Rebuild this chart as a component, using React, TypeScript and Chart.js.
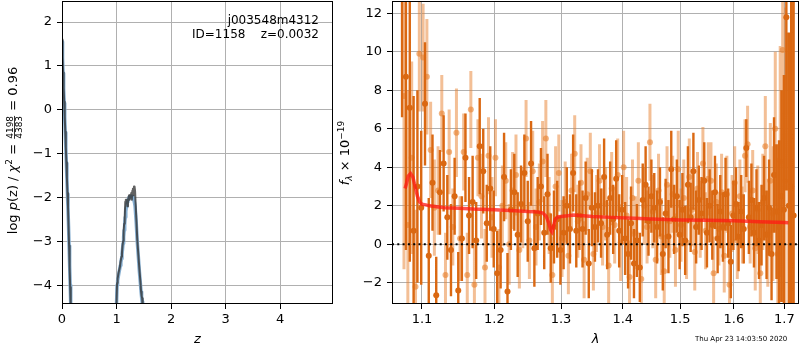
import React, { useEffect, useRef } from "react";
import { Chart, registerables } from "chart.js";

Chart.register(...registerables);

// ---------------- Left panel: log p(z) ----------------
const zGrid = [
  0, 0.01, 0.02, 0.03, 0.04, 0.05, 0.06, 0.07, 0.08, 0.09, 0.1, 0.11, 0.12, 0.13, 0.14, 0.15, 0.16, 0.18,
  0.5,
  0.99, 1.0, 1.01, 1.02, 1.04, 1.06,
  1.07, 1.08, 1.09, 1.1, 1.11, 1.12, 1.13, 1.14, 1.15, 1.16, 1.17, 1.18, 1.19, 1.2, 1.21, 1.22, 1.23, 1.24,
  1.25, 1.26, 1.27, 1.28, 1.29, 1.3, 1.31, 1.32, 1.33, 1.34,
  1.36, 1.38, 1.4, 1.42, 1.44,
  1.45, 1.46, 1.47, 1.48, 1.5,
];
const logpDark = [
  1.6, 1.2, 0.85, 0.5, 0.18, -0.15, -0.5, -0.85, -1.2, -1.55, -1.9, -2.2, -2.65, -3.1, -3.6, -4.05, -4.5, -5.5,
  null,
  -5, -4.4, -3.95, -3.85, -3.7, -3.6,
  -3.5, -3.5, -3.35, -3.25, -3.1, -3.0, -2.75, -2.6, -2.45, -2.1, -2.05, -2.1, -2.05, -2.2, -2.1, -2.0, -1.95, -2.05,
  -1.95, -2.0, -1.9, -2.05, -1.85, -1.8, -1.95, -1.75, -1.75, -1.85,
  -2.4, -2.95, -3.3, -3.65, -3.95,
  -4.15, -4.25, -4.3, -4.6, -5,
];
const logpBlue = [
  1.55, 1.18, 0.83, 0.48, 0.15, -0.18, -0.52, -0.87, -1.22, -1.57, -1.92, -2.27, -2.65, -3.1, -3.55, -4.0, -4.45, -5.4,
  null,
  -5, -4.45, -4.0, -3.9, -3.75, -3.62,
  -3.55, -3.48, -3.4, -3.3, -3.18, -3.05, -2.9, -2.75, -2.6, -2.45, -2.32, -2.22, -2.15, -2.1, -2.06, -2.03, -2.0, -2.0,
  -1.98, -1.98, -1.97, -1.97, -1.98, -2.0, -2.03, -2.07, -2.12, -2.2,
  -2.55, -3.0, -3.35, -3.7, -4.0,
  -4.15, -4.28, -4.38, -4.6, -5,
];
const zTicks = [0, 1, 2, 3, 4];
const logpTicks = [-4, -3, -2, -1, 0, 1, 2];

// ---------------- Right panel: spectrum ----------------
const waveDark = [
  1.074, 1.079, 1.084, 1.089, 1.094, 1.099, 1.104, 1.109, 1.114, 1.119,
  1.124, 1.129, 1.134, 1.139, 1.144, 1.149, 1.154, 1.159, 1.164, 1.169,
  1.174, 1.179, 1.184, 1.189, 1.194, 1.199, 1.204, 1.209, 1.214, 1.219,
  1.224, 1.229, 1.234, 1.239, 1.244, 1.249, 1.254, 1.259, 1.264, 1.269,
  1.274, 1.279, 1.284, 1.289, 1.294, 1.299, 1.304, 1.309, 1.314, 1.319,
  1.324, 1.329, 1.334, 1.339, 1.344, 1.349, 1.354, 1.359, 1.364, 1.369,
  1.374, 1.379, 1.384, 1.389, 1.394, 1.399, 1.404, 1.409, 1.414, 1.419,
  1.424, 1.429, 1.434, 1.439, 1.444, 1.449, 1.454, 1.459, 1.464, 1.469,
  1.474, 1.479, 1.484, 1.489, 1.494, 1.499, 1.504, 1.509, 1.514, 1.519,
  1.524, 1.529, 1.534, 1.539, 1.544, 1.549, 1.554, 1.559, 1.564, 1.569,
  1.574, 1.579, 1.584, 1.589, 1.594, 1.599, 1.604, 1.609, 1.614, 1.619,
  1.624, 1.629, 1.634, 1.639, 1.644, 1.649, 1.654, 1.659, 1.664, 1.669,
  1.674, 1.679, 1.684, 1.689, 1.694, 1.699, 1.704, 1.709, 1.714, 1.719,
];
const fluxDark = [
  13.5, 8.7, 7.1, 0.7, 3.0, 1.9, 7.3, -0.6, 3.2, -2.65,
  2.7, 4.2, 1.4, -0.3, 2.5, -2.4, 0.3, 4.5, 1.5, 2.2,
  0.2, 5.1, 3.8, 1.1, 2.9, 0.8, -1.5, -0.3, 3.5, -2.45,
  1.8, 2.7, 0.5, 2.1, 3.7, 1.2, 4.2, -0.2, 1.6, 3.0,
  0.6, 2.6, -0.2, 0.9, 1.3, -0.3, 0.6, 2.0, 0.8, 3.7,
  0.7, 1.5, 0.8, 2.4, -1.0, 1.9, 0.9, 2.0, 1.1, 3.5,
  0.5, 2.4, 1.3, 3.4, 0.7, 1.8, 0.3, -0.5, 1.1, -1.0,
  0.2, -1.2, 2.3, 3.1, 1.2, 2.5, 1.9, 0.9, 2.2, -0.5,
  1.6, 0.4, 3.9, 1.3, 2.5, 0.5, 1.8, 0.2, 3.1, 1.4,
  3.8, 0.9, 2.3, 1.6, 3.3, 0.6, 2.0, 1.0, 2.7, 0.3,
  1.7, 0.9, 2.6, 1.1, -0.9, 1.5, 2.1, 0.4, 1.7, 0.8,
  5.0, 1.4, 2.3, 0.6, 1.9, 0.2, 1.0, 2.4, 0.5, 1.9,
  -0.5, 3.6, 1.7, 0.9, 2.5, 1.8, 11.8, 2.0, 3.0, 1.5,
];
const errDark = [
  6.9, 9, 8, 7, 5, 4, 3.2, 3, 2.5, 2,
  2.2, 2.5, 2.2, 2.4, 2.0, 2.0, 2.2, 2.3, 2.0, 2.4,
  2.0, 2.5, 2.2, 2.0, 2.2, 2.0, 2.2, 2.0, 2.3, 2.0,
  2.1, 2.0, 2.2, 2.0, 2.0, 2.1, 2.2, 2.0, 1.9, 2.0,
  1.9, 2.1, 1.8, 1.9, 2.0, 1.8, 1.9, 2.0, 1.8, 2.0,
  1.9, 1.8, 2.0, 1.9, 1.8, 2.0, 1.8, 1.9, 1.8, 2.0,
  1.8, 1.9, 1.8, 2.0, 1.9, 1.8, 1.9, 1.8, 1.9, 1.8,
  1.9, 1.8, 1.9, 2.0, 1.8, 1.9, 1.8, 1.9, 1.8, 1.9,
  1.8, 1.9, 2.0, 1.8, 1.9, 1.8, 1.9, 1.8, 2.0, 1.8,
  2.0, 1.9, 1.8, 1.9, 2.0, 1.8, 1.9, 1.8, 1.9, 1.8,
  1.9, 1.8, 1.9, 1.8, 1.9, 1.8, 1.9, 1.8, 1.9, 1.8,
  1.5, 1.9, 1.9, 1.8, 2.0, 2.0, 2.1, 2.2, 2.3, 2.5,
  2.4, 3.0, 3.5, 4.5, 5.5, 7, 9, 9, 12, 12,
];
const waveLight = [
  1.0765, 1.0815, 1.0865, 1.0915, 1.0965, 1.1015, 1.1065, 1.1115, 1.1165, 1.1215,
  1.1265, 1.1315, 1.1365, 1.1415, 1.1465, 1.1515, 1.1565, 1.1615, 1.1665, 1.1715,
  1.1765, 1.1815, 1.1865, 1.1915, 1.1965, 1.2015, 1.2065, 1.2115, 1.2165, 1.2215,
  1.2265, 1.2315, 1.2365, 1.2415, 1.2465, 1.2515, 1.2565, 1.2615, 1.2665, 1.2715,
  1.2765, 1.2815, 1.2865, 1.2915, 1.2965, 1.3015, 1.3065, 1.3115, 1.3165, 1.3215,
  1.3265, 1.3315, 1.3365, 1.3415, 1.3465, 1.3515, 1.3565, 1.3615, 1.3665, 1.3715,
  1.3765, 1.3815, 1.3865, 1.3915, 1.3965, 1.4015, 1.4065, 1.4115, 1.4165, 1.4215,
  1.4265, 1.4315, 1.4365, 1.4415, 1.4465, 1.4515, 1.4565, 1.4615, 1.4665, 1.4715,
  1.4765, 1.4815, 1.4865, 1.4915, 1.4965, 1.5015, 1.5065, 1.5115, 1.5165, 1.5215,
  1.5265, 1.5315, 1.5365, 1.5415, 1.5465, 1.5515, 1.5565, 1.5615, 1.5665, 1.5715,
  1.5765, 1.5815, 1.5865, 1.5915, 1.5965, 1.6015, 1.6065, 1.6115, 1.6165, 1.6215,
  1.6265, 1.6315, 1.6365, 1.6415, 1.6465, 1.6515, 1.6565, 1.6615, 1.6665, 1.6715,
  1.6765, 1.6815, 1.6865, 1.6915, 1.6965, 1.7015,
];
const fluxLight = [
  7.7, 1.0, 4.5, -2.2, 9.9, 9.7, 8.7, 4.9, 1.9, 2.8,
  6.8, -1.6, 4.8, 0.9, 5.8, 0.3, 4.8, -1.6, 7.0, -2.1,
  4.5, 2.5, -1.2, 4.6, 1.4, 4.5, -1.2, 2.0, 3.3, 0.0,
  2.8, 3.6, -0.3, 1.9, 5.5, 0.2, 3.8, 0.9, 2.2, 4.3,
  5.5, 1.5, -1.6, 3.0, 3.7, 0.3, 2.2, -0.6, 2.8, 4.7,
  1.2, 3.2, -0.8, 2.6, 3.8, -0.5, 1.6, 3.3, 0.9, 2.1,
  -1.1, 2.9, 1.0, 3.6, 0.1, 4.0, 1.5, -1.7, 2.4, 0.6,
  3.3, -1.8, 2.0, 0.9, 5.3, 1.7, -0.8, 2.8, 0.4, -1.4,
  3.1, 1.2, 2.6, -0.3, 3.9, 1.0, 2.4, 0.1, 3.5, 1.8,
  -0.4, 2.9, 1.3, 4.2, 0.7, 3.4, 3.3, -1.5, 2.2, 0.8,
  2.7, -0.6, 2.6, -2.1, 1.6, 3.2, 0.2, 2.5, 1.0, 4.6,
  5.2, 0.9, 2.8, -0.2, 1.8, -1.5, 2.2, 5.1, 0.6, 3.3,
  1.6, 6.0, -0.5, 4.3, 10.1, 3.3,
];
const errLight = [
  9, 7, 5, 4, 3, 2.8, 3, 2.5, 2.5, 2.3,
  2.0, 2.2, 2.2, 2.0, 2.3, 2.2, 2.0, 2.2, 2.0, 2.1,
  2.0, 2.2, 2.0, 2.0, 2.1, 2.0, 2.0, 2.1, 2.0, 2.1,
  2.0, 2.1, 2.0, 2.1, 2.0, 2.0, 2.1, 2.0, 2.0, 2.1,
  2.0, 2.0, 2.0, 2.1, 2.0, 2.0, 2.1, 2.0, 1.9, 2.0,
  1.9, 2.0, 2.0, 1.9, 2.0, 1.9, 2.0, 1.9, 2.0, 1.9,
  2.0, 1.9, 2.0, 1.9, 2.0, 1.9, 2.0, 1.9, 2.0, 1.9,
  2.0, 1.9, 2.0, 1.9, 2.0, 1.9, 2.0, 1.9, 2.0, 1.9,
  2.0, 1.9, 2.0, 1.9, 2.0, 1.9, 2.0, 1.9, 2.0, 1.9,
  2.0, 1.9, 2.0, 1.9, 2.0, 1.9, 2.0, 1.9, 2.0, 1.9,
  2.0, 1.9, 2.0, 1.9, 2.0, 1.9, 2.0, 1.9, 2.0, 1.9,
  2.0, 1.9, 2.1, 2.2, 2.3, 2.4, 2.5, 2.6, 2.8, 3.0,
  3.5, 4, 5, 6, 8, 9,
];
const modelWave = [
  1.078, 1.08, 1.082, 1.085, 1.088, 1.091, 1.094, 1.097, 1.1, 1.105,
  1.11, 1.12, 1.13, 1.15, 1.17, 1.2, 1.23, 1.25, 1.265, 1.272,
  1.277, 1.281, 1.284, 1.286, 1.288, 1.291, 1.295, 1.3, 1.31, 1.32,
  1.33, 1.35, 1.38, 1.42, 1.46, 1.5, 1.55, 1.6, 1.65, 1.7, 1.708,
];
const modelFlux = [
  2.9, 3.2, 3.55, 3.68, 3.5, 3.0, 2.5, 2.2, 2.08, 2.05,
  2.0, 1.95, 1.9, 1.87, 1.83, 1.8, 1.75, 1.7, 1.68, 1.62,
  1.45, 1.1, 0.75, 0.65, 0.9, 1.3, 1.42, 1.45, 1.48, 1.52,
  1.5, 1.45, 1.4, 1.35, 1.3, 1.27, 1.25, 1.22, 1.17, 1.13, 1.12,
];
const waveTicks = [1.1, 1.2, 1.3, 1.4, 1.5, 1.6, 1.7];
const fluxTicks = [-2, 0, 2, 4, 6, 8, 10, 12];

const FONT = '"DejaVu Sans"';
const DARK = "rgb(218,104,18)";
const LIGHT_BAR = "rgba(232,128,45,0.5)";
const LIGHT_PT = "rgba(232,128,45,0.6)";

function pts(xs: number[], ys: (number | null)[]) {
  return xs.map((x, i) => ({ x, y: ys[i] }));
}
function errPts(xs: number[], f: number[], e: number[]) {
  const out: { x: number; y: number | null }[] = [];
  xs.forEach((x, i) => {
    out.push({ x, y: f[i] - e[i] }, { x, y: f[i] + e[i] }, { x, y: null });
  });
  return out;
}
const fmtNum = (v: number) => (v < 0 ? "\u2212" + Math.abs(v) : String(v));

type Piece = { t?: string; f: string; dy?: number; frac?: [string, string] };
function drawRotatedRich(ctx: CanvasRenderingContext2D, pieces: Piece[], baseX: number, cy: number) {
  ctx.save();
  ctx.translate(baseX, cy);
  ctx.rotate(-Math.PI / 2);
  ctx.fillStyle = "#000";
  ctx.textBaseline = "alphabetic";
  const widths = pieces.map((p) => {
    ctx.font = p.f;
    if (p.frac) return Math.max(ctx.measureText(p.frac[0]).width, ctx.measureText(p.frac[1]).width) + 2;
    return ctx.measureText(p.t || "").width;
  });
  const total = widths.reduce((a, b) => a + b, 0);
  let x = -total / 2;
  pieces.forEach((p, i) => {
    ctx.font = p.f;
    const w = widths[i];
    if (p.frac) {
      ctx.textAlign = "center";
      ctx.fillText(p.frac[0], x + w / 2, -3.8);
      ctx.fillText(p.frac[1], x + w / 2, 4.6);
      ctx.fillRect(x + 1, -3.0, w - 2, 0.8);
    } else {
      ctx.textAlign = "left";
      ctx.fillText(p.t || "", x, p.dy || 0);
    }
    x += w;
  });
  ctx.restore();
}

function framePlugin(id: string, drawText: (ctx: CanvasRenderingContext2D, a: any) => void) {
  return {
    id,
    afterDraw(chart: any) {
      const ctx = chart.ctx as CanvasRenderingContext2D;
      const a = chart.chartArea;
      ctx.save();
      ctx.strokeStyle = "#000";
      ctx.lineWidth = 1;
      ctx.strokeRect(Math.round(a.left) + 0.5, Math.round(a.top) + 0.5, Math.round(a.right - a.left) - 1, Math.round(a.bottom - a.top) - 1);
      drawText(ctx, a);
      ctx.restore();
    },
  };
}

const grid = { color: "#b0b0b0", lineWidth: 1, tickColor: "#000", tickLength: 5, tickWidth: 1, drawTicks: true };
const tickFont = { family: FONT, size: 13 };

function leftConfig(): any {
  return {
    type: "line",
    data: {
      datasets: [
        { data: pts(zGrid, logpDark), borderColor: "rgba(45,45,45,0.75)", borderWidth: 2, pointRadius: 0, spanGaps: false, order: 0 },
        { data: pts(zGrid, logpBlue), borderColor: "#86aed0", borderWidth: 3.5, pointRadius: 0, spanGaps: false, order: 1 },
      ],
    },
    options: {
      animation: false,
      responsive: false,
      devicePixelRatio: 1,
      events: [],
      layout: { padding: { left: 0, right: 7, top: 1, bottom: 0 }, autoPadding: false },
      elements: { line: { tension: 0, borderJoinStyle: "round" }, point: { radius: 0 } },
      plugins: { legend: { display: false }, tooltip: { enabled: false } },
      scales: {
        x: {
          type: "linear",
          min: 0,
          max: 4.97,
          grid,
          border: { display: false },
          ticks: { font: tickFont, color: "#000", padding: 3, maxRotation: 0, autoSkip: false, callback: (v: number) => fmtNum(v) },
          afterBuildTicks: (s: any) => { s.ticks = zTicks.map((v) => ({ value: v })); },
          afterFit: (s: any) => { s.height = 46; s.paddingLeft = 0; s.paddingRight = 0; },
        },
        y: {
          type: "linear",
          min: -4.43,
          max: 2.48,
          grid,
          border: { display: false },
          ticks: { font: tickFont, color: "#000", padding: 5, autoSkip: false, callback: (v: number) => fmtNum(v) },
          afterBuildTicks: (s: any) => { s.ticks = logpTicks.map((v) => ({ value: v })); },
          afterFit: (s: any) => { s.width = 62; s.paddingTop = 0; s.paddingBottom = 0; },
        },
      },
    },
    plugins: [
      framePlugin("leftFrame", (ctx, a) => {
        ctx.fillStyle = "#000";
        ctx.font = `12px ${FONT}`;
        ctx.textAlign = "right";
        ctx.textBaseline = "middle";
        ctx.fillText("j003548m4312", a.right - 14, 20.5);
        ctx.fillText("ID=1158    z=0.0032", a.right - 14, 34.5);
        ctx.font = `italic 13px ${FONT}`;
        ctx.textAlign = "center";
        ctx.fillText("z", (a.left + a.right) / 2, 340);
        drawRotatedRich(
          ctx,
          [
            { t: "log ", f: `13px ${FONT}` },
            { t: "p", f: `italic 13px ${FONT}` },
            { t: "(z) / ", f: `13px ${FONT}` },
            { t: "\u03c7", f: `italic 13px ${FONT}` },
            { t: "2", f: `9px ${FONT}`, dy: -5.5 },
            { t: " = ", f: `13px ${FONT}` },
            { f: `9px ${FONT}`, frac: ["4198", "4383"] },
            { t: " = 0.96", f: `13px ${FONT}` },
          ],
          17,
          150.5
        );
      }),
    ],
  };
}

function rightConfig(): any {
  const xmin = 1.0611;
  const xmax = 1.7301;
  return {
    type: "line",
    data: {
      datasets: [
        { data: [{ x: xmin, y: 0 }, { x: xmax, y: 0 }], borderColor: "#000", borderWidth: 2, borderDash: [2, 3.3], pointRadius: 0, order: 0 },
        { data: pts(modelWave, modelFlux), borderColor: "rgba(255,25,20,0.75)", borderWidth: 3.5, pointRadius: 0, order: 1 },
        { data: pts(waveDark, fluxDark), showLine: false, pointRadius: 3, pointBackgroundColor: DARK, pointBorderWidth: 0, pointBorderColor: "rgba(0,0,0,0)", order: 2 },
        { data: errPts(waveDark, fluxDark, errDark), borderColor: DARK, borderWidth: 2.4, pointRadius: 0, spanGaps: false, order: 3 },
        { data: pts(waveLight, fluxLight), showLine: false, pointRadius: 3, pointBackgroundColor: LIGHT_PT, pointBorderWidth: 0, pointBorderColor: "rgba(0,0,0,0)", order: 4 },
        { data: errPts(waveLight, fluxLight, errLight), borderColor: LIGHT_BAR, borderWidth: 3, pointRadius: 0, spanGaps: false, order: 5 },
      ],
    },
    options: {
      animation: false,
      responsive: false,
      devicePixelRatio: 1,
      events: [],
      layout: { padding: { left: 0, right: 1, top: 1, bottom: 0 }, autoPadding: false },
      elements: { line: { tension: 0, borderCapStyle: "butt" }, point: { radius: 0 } },
      plugins: { legend: { display: false }, tooltip: { enabled: false } },
      scales: {
        x: {
          type: "logarithmic",
          min: xmin,
          max: xmax,
          grid,
          border: { display: false },
          ticks: { font: tickFont, color: "#000", padding: 3, maxRotation: 0, autoSkip: false, callback: (v: number) => Number(v).toFixed(1) },
          afterBuildTicks: (s: any) => { s.ticks = waveTicks.map((v) => ({ value: v })); },
          afterFit: (s: any) => { s.height = 46; s.paddingLeft = 0; s.paddingRight = 0; },
        },
        y: {
          type: "linear",
          min: -3.1,
          max: 12.64,
          grid,
          border: { display: false },
          ticks: { font: tickFont, color: "#000", padding: 5, autoSkip: false, callback: (v: number) => fmtNum(v) },
          afterBuildTicks: (s: any) => { s.ticks = fluxTicks.map((v) => ({ value: v })); },
          afterFit: (s: any) => { s.width = 62; s.paddingTop = 0; s.paddingBottom = 0; },
        },
      },
    },
    plugins: [
      framePlugin("rightFrame", (ctx, a) => {
        ctx.fillStyle = "#000";
        ctx.font = `italic 13px ${FONT}`;
        ctx.textAlign = "center";
        ctx.textBaseline = "middle";
        ctx.fillText("\u03bb", (a.left + a.right) / 2, 340);
        ctx.font = `7px ${FONT}`;
        ctx.textAlign = "right";
        ctx.fillText("Thu Apr 23 14:03:50 2020", 457.3, 339);
        drawRotatedRich(
          ctx,
          [
            { t: "f", f: `italic 13px ${FONT}` },
            { t: "\u03bb", f: `italic 9px ${FONT}`, dy: 2.5 },
            { t: " \u00d7 10", f: `13px ${FONT}` },
            { t: "\u221219", f: `9px ${FONT}`, dy: -5.5 },
          ],
          19.3,
          153
        );
      }),
    ],
  };
}

export default function App() {
  const leftRef = useRef<HTMLCanvasElement>(null);
  const rightRef = useRef<HTMLCanvasElement>(null);
  useEffect(() => {
    const c1 = new Chart(leftRef.current as HTMLCanvasElement, leftConfig());
    const c2 = new Chart(rightRef.current as HTMLCanvasElement, rightConfig());
    return () => {
      c1.destroy();
      c2.destroy();
    };
  }, []);
  return (
    <div style={{ position: "fixed", left: 0, top: 0, width: 800, height: 350, background: "#fff" }}>
      <canvas ref={leftRef} width={340} height={350} style={{ position: "absolute", left: 0, top: 0, width: 340, height: 350 }} />
      <canvas ref={rightRef} width={470} height={350} style={{ position: "absolute", left: 330, top: 0, width: 470, height: 350 }} />
    </div>
  );
}
